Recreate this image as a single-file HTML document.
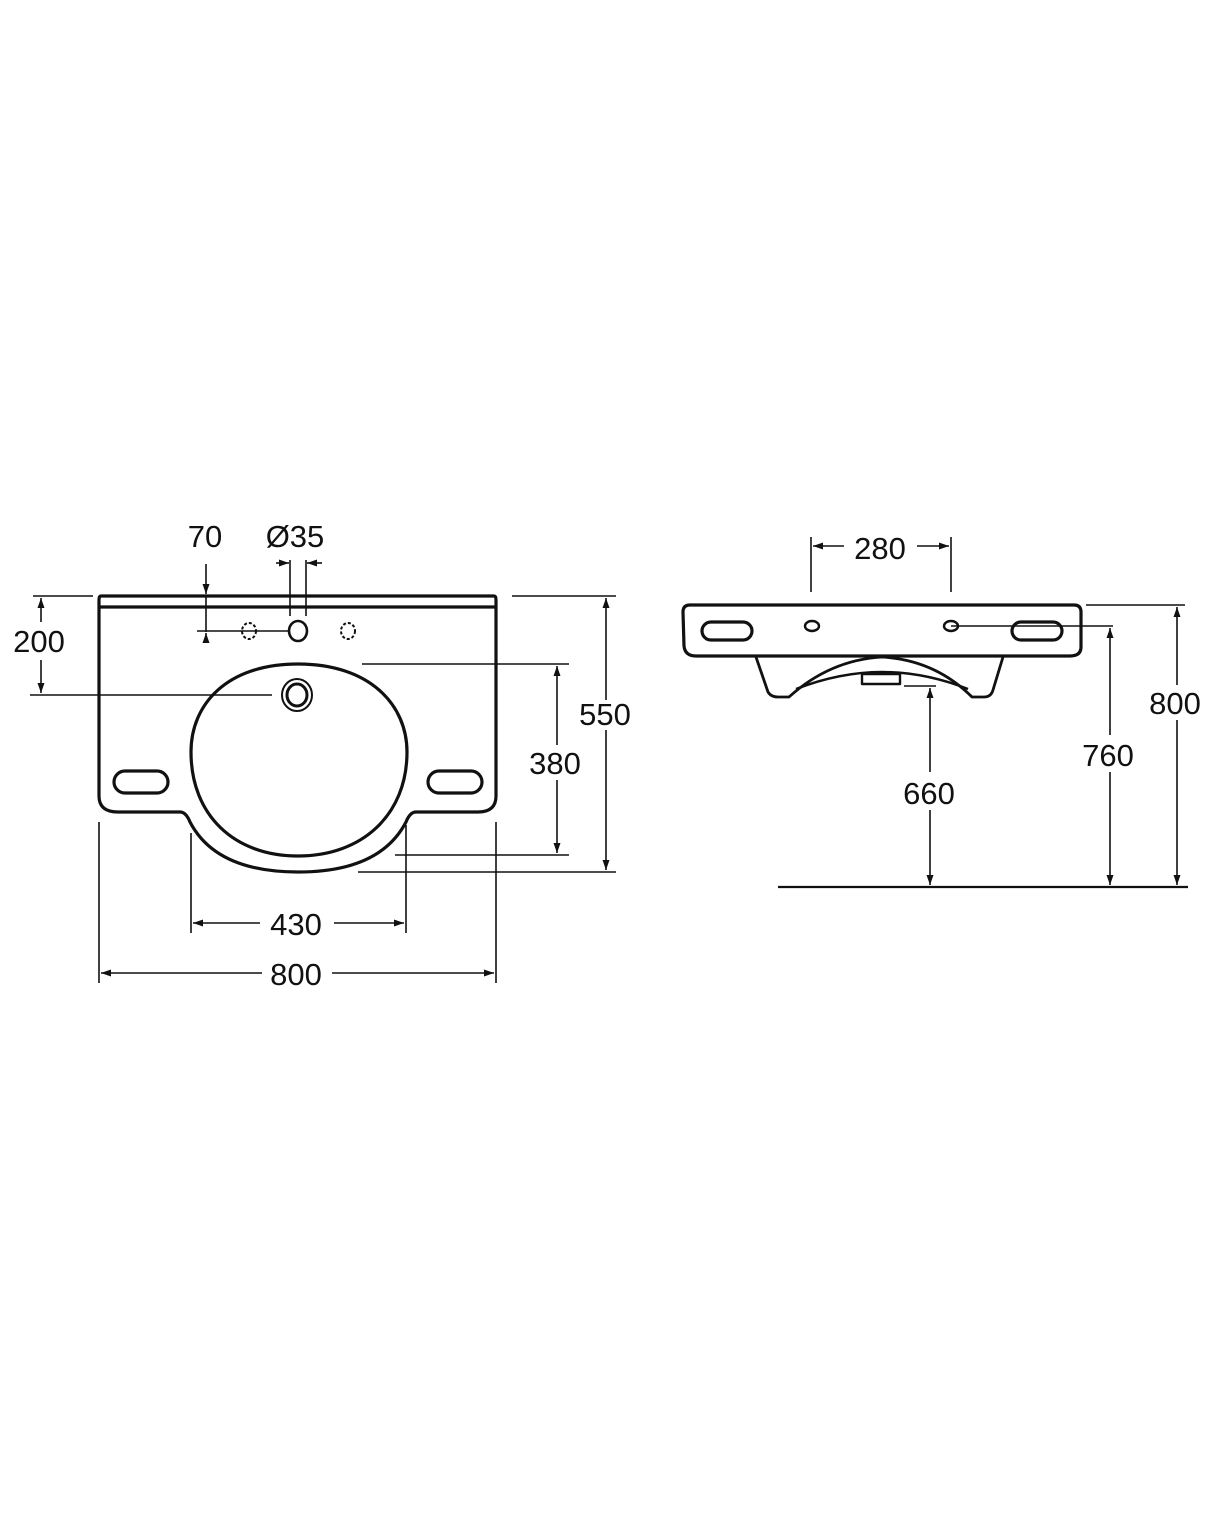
<!DOCTYPE html>
<html><head><meta charset="utf-8"><style>
html,body{margin:0;padding:0;background:#fff}
svg{display:block}
text{font-family:"Liberation Sans",sans-serif;font-size:31px;fill:#111;text-anchor:middle}
</style></head><body>
<svg width="1214" height="1513" viewBox="0 0 1214 1513" xmlns="http://www.w3.org/2000/svg">
<defs>
<marker id="a" viewBox="0 0 10 10" refX="10" refY="5" markerWidth="10" markerHeight="10" markerUnits="userSpaceOnUse" orient="auto"><path d="M0,1.5 L10,5 L0,8.5 z" fill="#111"/></marker>
</defs>
<g fill="none" stroke="#111" stroke-width="3.2" stroke-linejoin="round">
<path d="M101,596 L494,596 Q496,596 496,600 L496,796 Q496,812 478,812 L416,812 Q410,812 406,822 Q380,872 298,872 Q216,872 190,822 Q186,812 180,812 L118,812 Q99,812 99,796 L99,600 Q99,596 101,596 Z"/>
<line x1="99" y1="607" x2="496" y2="607"/>
<path d="M298,664 C370,664 407,705 407,752 C407,815 362,856 298,856 C234,856 191,815 191,752 C191,705 226,664 298,664 Z"/>
<rect x="114" y="771" width="54" height="22" rx="11"/>
<rect x="428" y="771" width="54" height="22" rx="11"/>
<ellipse cx="298" cy="631" rx="9" ry="10" stroke-width="2.6"/>
</g>
<g fill="none" stroke="#111" stroke-width="2">
<ellipse cx="297" cy="695" rx="15" ry="16"/>
<ellipse cx="297" cy="695" rx="10" ry="11" stroke-width="3"/>
<ellipse cx="249" cy="631" rx="7" ry="8" stroke-dasharray="3 2"/>
<ellipse cx="348" cy="631" rx="7" ry="8" stroke-dasharray="3 2"/>
</g>
<g stroke="#111" stroke-width="1.6" fill="none">
<line x1="33" y1="596" x2="93" y2="596"/>
<line x1="30" y1="695" x2="272" y2="695"/>
<line x1="41" y1="622" x2="41" y2="598" marker-end="url(#a)"/>
<line x1="41" y1="660" x2="41" y2="693" marker-end="url(#a)"/>
<line x1="206" y1="564" x2="206" y2="594" marker-end="url(#a)"/>
<line x1="206" y1="596" x2="206" y2="632"/>
<line x1="206" y1="642" x2="206" y2="633" marker-end="url(#a)"/>
<line x1="197" y1="631" x2="290" y2="631"/>
<line x1="290" y1="560" x2="290" y2="616"/>
<line x1="306" y1="560" x2="306" y2="616"/>
<line x1="276" y1="563" x2="289" y2="563" marker-end="url(#a)"/>
<line x1="322" y1="563" x2="307" y2="563" marker-end="url(#a)"/>
<line x1="512" y1="596" x2="616" y2="596"/>
<line x1="358" y1="872" x2="616" y2="872"/>
<line x1="606" y1="700" x2="606" y2="598" marker-end="url(#a)"/>
<line x1="606" y1="730" x2="606" y2="870" marker-end="url(#a)"/>
<line x1="362" y1="664" x2="569" y2="664"/>
<line x1="395" y1="855" x2="569" y2="855"/>
<line x1="557" y1="745" x2="557" y2="666" marker-end="url(#a)"/>
<line x1="557" y1="780" x2="557" y2="853" marker-end="url(#a)"/>
<line x1="191" y1="833" x2="191" y2="933"/>
<line x1="406" y1="825" x2="406" y2="933"/>
<line x1="260" y1="923" x2="193" y2="923" marker-end="url(#a)"/>
<line x1="334" y1="923" x2="404" y2="923" marker-end="url(#a)"/>
<line x1="99" y1="822" x2="99" y2="983"/>
<line x1="496" y1="822" x2="496" y2="983"/>
<line x1="262" y1="973" x2="101" y2="973" marker-end="url(#a)"/>
<line x1="332" y1="973" x2="494" y2="973" marker-end="url(#a)"/>
</g>
<text x="39" y="652">200</text>
<text x="205" y="547">70</text>
<text x="295" y="547">Ø35</text>
<text x="605" y="725">550</text>
<text x="555" y="774">380</text>
<text x="296" y="935">430</text>
<text x="296" y="985">800</text>
<g fill="none" stroke="#111" stroke-width="3.2" stroke-linejoin="round">
<path d="M690,605 L1074,605 Q1081,605 1081,612 L1081,647 Q1081,656 1070,656 L696,656 Q685,656 684,646 L683,612 Q683,605 690,605 Z"/>
<rect x="702" y="622" width="50" height="18" rx="9"/>
<rect x="1012" y="622" width="50" height="18" rx="9"/>
<ellipse cx="812" cy="626" rx="7" ry="5" stroke-width="2.4"/>
<ellipse cx="951" cy="626" rx="7" ry="5" stroke-width="2.4"/>
<path d="M756,657 L768,692 Q771,697 778,697 L789,697 Q830,660 882,657 Q935,660 972,697 L984,697 Q991,697 993,690 L1003,657" stroke-width="2.8"/>
<path d="M796,689 Q840,672 882,672 Q925,672 968,689" stroke-width="2.4"/>
<rect x="862" y="674" width="38" height="10" stroke-width="2.4"/>
</g>
<g stroke="#111" stroke-width="1.6" fill="none">
<line x1="778" y1="887" x2="1188" y2="887" stroke-width="2.2"/>
<line x1="811" y1="537" x2="811" y2="592"/>
<line x1="951" y1="537" x2="951" y2="592"/>
<line x1="844" y1="546" x2="813" y2="546" marker-end="url(#a)"/>
<line x1="917" y1="546" x2="949" y2="546" marker-end="url(#a)"/>
<line x1="1086" y1="605" x2="1185" y2="605"/>
<line x1="1177" y1="685" x2="1177" y2="607" marker-end="url(#a)"/>
<line x1="1177" y1="720" x2="1177" y2="885" marker-end="url(#a)"/>
<line x1="951" y1="626" x2="1113" y2="626"/>
<line x1="1110" y1="735" x2="1110" y2="628" marker-end="url(#a)"/>
<line x1="1110" y1="772" x2="1110" y2="885" marker-end="url(#a)"/>
<line x1="904" y1="686" x2="936" y2="686"/>
<line x1="930" y1="772" x2="930" y2="688" marker-end="url(#a)"/>
<line x1="930" y1="810" x2="930" y2="885" marker-end="url(#a)"/>
</g>
<text x="880" y="559">280</text>
<text x="1175" y="714">800</text>
<text x="1108" y="766">760</text>
<text x="929" y="804">660</text>
</svg>
</body></html>
